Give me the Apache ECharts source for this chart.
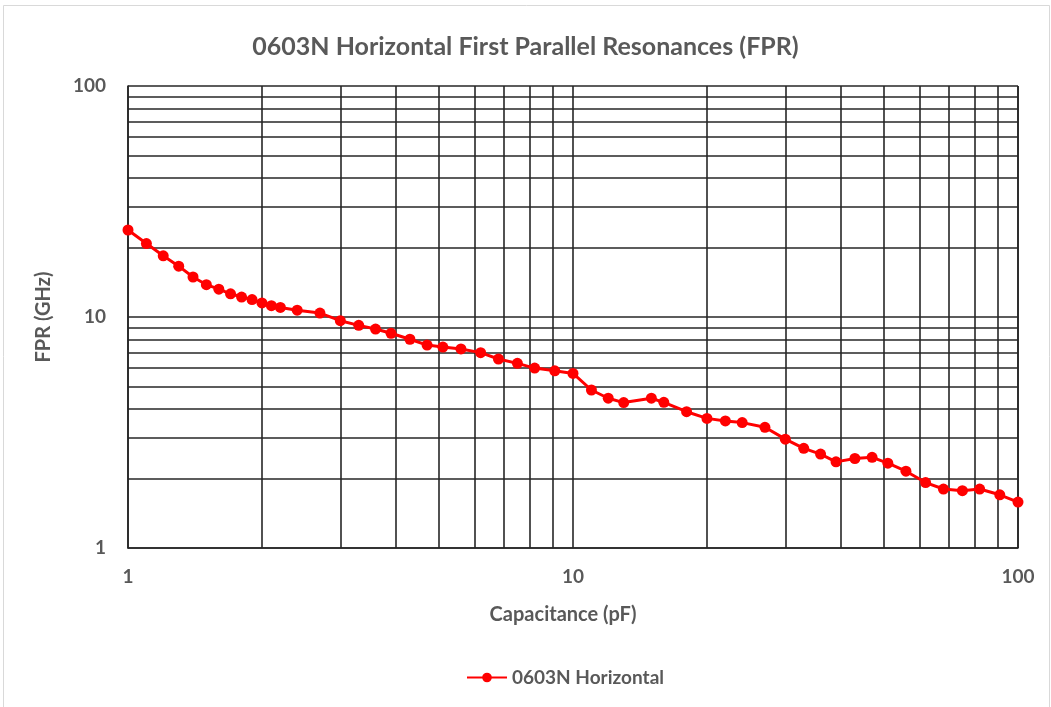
<!DOCTYPE html>
<html>
<head>
<meta charset="utf-8">
<script src="https://cdn.jsdelivr.net/npm/echarts@6/dist/echarts.min.js"></script>
<style>
  html, body { margin: 0; padding: 0; background: #fff; }
  #chart { width: 1051px; height: 707px; }
</style>
</head>
<body>
<div id="chart"></div>
<script>
// capacitance values (pF)
var capacitance = [1.0, 1.1, 1.2, 1.3, 1.4, 1.5, 1.6, 1.7, 1.8, 1.9, 2.0, 2.1, 2.2, 2.4, 2.7,
    3.0, 3.3, 3.6, 3.9, 4.3, 4.7, 5.1, 5.6, 6.2, 6.8, 7.5, 8.2, 9.1,
    10, 11, 12, 13, 15, 16, 18, 20, 22, 24, 27, 30, 33, 36, 39, 43, 47, 51, 56, 62, 68, 75, 82, 91, 100];
// first parallel resonance (GHz)
var fpr = [23.8, 20.8, 18.4, 16.6, 14.9, 13.8, 13.2, 12.6, 12.2, 11.9, 11.5, 11.2, 11.0, 10.7, 10.4,
    9.64, 9.2, 8.87, 8.5, 8.01, 7.56, 7.41, 7.27, 7.01, 6.58, 6.3, 6.01, 5.85,
    5.7, 4.83, 4.45, 4.26, 4.45, 4.27, 3.89, 3.64, 3.55, 3.49, 3.33, 2.96, 2.7, 2.55, 2.36, 2.44, 2.47, 2.33, 2.15, 1.92, 1.8, 1.77, 1.8, 1.7, 1.58];
// minor grid positions (both axes)
var minorX = [2, 3, 4, 5, 6, 7, 8, 9, 20, 30, 40, 50, 60, 70, 80, 90];
var minorY = [2, 3, 4, 5, 6, 7, 8, 9, 20, 30, 40, 50, 60, 70, 80, 90];

var chart = echarts.init(document.getElementById('chart'));
var font = 'Lato, "Open Sans", sans-serif';
var grey = '#595959';
var gridColor = '#262626';

var points = capacitance.map(function (c, i) { return [c, fpr[i]]; });
var gridLines = minorX.map(function (v) { return {xAxis: v}; })
    .concat(minorY.map(function (v) { return {yAxis: v}; }));

var option = {
    animation: false,
    backgroundColor: '#fff',
    title: {
        text: '0603N Horizontal First Parallel Resonances (FPR)',
        left: 'center',
        top: 29,
        textStyle: {fontFamily: font, fontSize: 25, fontWeight: 'bold', color: grey}
    },
    legend: {
        data: ['0603N Horizontal'],
        left: 461,
        top: 663,
        itemWidth: 40,
        itemHeight: 12,
        itemGap: 6,
        textStyle: {fontFamily: font, fontSize: 19, fontWeight: 'bold', color: grey}
    },
    grid: {left: 128, top: 86, right: 33, bottom: 159},
    xAxis: {
        type: 'log',
        logBase: 10,
        min: 1,
        max: 100,
        name: 'Capacitance (pF)',
        nameLocation: 'middle',
        nameGap: 57,
        nameTextStyle: {fontFamily: font, fontSize: 20, fontWeight: 'bold', color: grey, padding: [0, 20, 0, 0]},
        axisLine: {show: true, onZero: false, lineStyle: {color: gridColor, width: 1.6}},
        axisTick: {show: false},
        axisLabel: {margin: 19, fontFamily: font, fontSize: 19, fontWeight: 'bold', color: grey},
        splitLine: {show: true, lineStyle: {color: gridColor, width: 1.6}}
    },
    yAxis: {
        type: 'log',
        logBase: 10,
        min: 1,
        max: 100,
        name: 'FPR (GHz)',
        nameLocation: 'middle',
        nameGap: 74,
        nameTextStyle: {fontFamily: font, fontSize: 20, fontWeight: 'bold', color: grey},
        axisLine: {show: true, lineStyle: {color: gridColor, width: 1.6}},
        axisTick: {show: false},
        axisLabel: {margin: 22, fontFamily: font, fontSize: 19, fontWeight: 'bold', color: grey},
        splitLine: {show: true, lineStyle: {color: gridColor, width: 1.6}}
    },
    graphic: [{
        type: 'rect',
        shape: {x: 3.5, y: 5.5, width: 1046, height: 702},
        style: {fill: 'none', stroke: '#d9d9d9', lineWidth: 1},
        silent: true
    }, {
        type: 'line',
        shape: {x1: 1018, y1: 86, x2: 1018, y2: 548},
        style: {stroke: gridColor, lineWidth: 1.6},
        silent: true
    }],
    series: [{
        name: '0603N Horizontal',
        type: 'line',
        data: points,
        symbol: 'circle',
        symbolSize: 11,
        itemStyle: {color: '#ff0000'},
        lineStyle: {color: '#ff0000', width: 3},
        z: 5,
        markLine: {
            silent: true,
            symbol: ['none', 'none'],
            label: {show: false},
            lineStyle: {color: gridColor, width: 1.6, type: 'solid'},
            z: 1,
            data: gridLines
        }
    }]
};
chart.setOption(option);
</script>
</body>
</html>
